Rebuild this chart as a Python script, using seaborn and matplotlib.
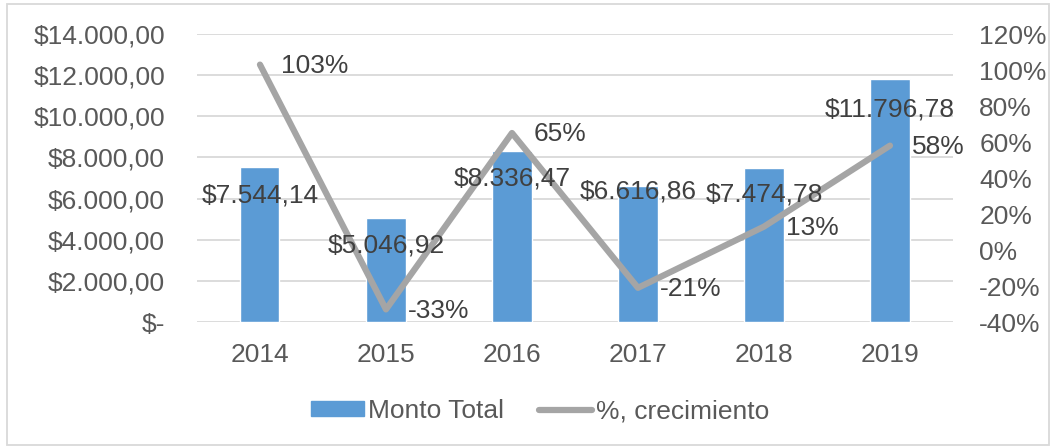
import matplotlib
matplotlib.use('Agg')
import matplotlib.pyplot as plt
import seaborn as sns
import numpy as np
import pandas as pd
from matplotlib.patches import Patch, Rectangle
from matplotlib.lines import Line2D
from matplotlib.ticker import FuncFormatter

years = ['2014', '2015', '2016', '2017', '2018', '2019']
monto_total = [7544.14, 5046.92, 8336.47, 6616.86, 7474.78, 11796.78]
crecimiento = [103, -33, 65, -21, 13, 58]

# vertical offsets (points) of the bar labels below the bar top
bar_label_dy = [-21, -20, -20, -4, -19, -22]

sns.set_theme(style='white')
plt.rcParams['font.family'] = ['Liberation Sans', 'DejaVu Sans']

BLUE = '#5B9BD5'
GRAY = '#A5A5A5'
TXT = '#595959'
LBL = '#404040'
FS = 19

def money(v):
    if v == 0:
        return '$-'
    s = f'{v:,.2f}'
    s = s.replace(',', 'X').replace('.', ',').replace('X', '.')
    return '$' + s

df = pd.DataFrame({'year': years, 'monto': monto_total, 'pct': crecimiento})

fig = plt.figure(figsize=(10.55, 4.47), dpi=100)
ax = fig.add_axes([0.1867, 0.2796, 0.7166, 0.6443])

sns.barplot(data=df, x='year', y='monto', color=BLUE, saturation=1,
            width=0.31, ax=ax, zorder=2)
ax.set_ylim(0, 14000)
ax.set_yticks(np.arange(0, 14001, 2000))
ax.yaxis.set_major_formatter(FuncFormatter(lambda v, p: money(v)))
ax.set_xlim(-0.5, 5.5)
ax.grid(axis='y', color='#D9D9D9', lw=1.3, zorder=0)
ax.set_axisbelow(True)
ax.set_xlabel('')
ax.set_ylabel('')
for s in ax.spines.values():
    s.set_visible(False)
ax.tick_params(axis='both', length=0, labelsize=FS, labelcolor=TXT)
ax.tick_params(axis='y', pad=23)
ax.tick_params(axis='x', pad=15)

ax2 = ax.twinx()
sns.lineplot(x=np.arange(len(years)), y=df['pct'], color=GRAY, lw=4.5,
             ax=ax2, zorder=3, solid_capstyle='round')
ax2.set_ylim(-40, 120)
ax2.set_yticks(np.arange(-40, 121, 20))
ax2.yaxis.set_major_formatter(FuncFormatter(lambda v, p: f'{v:.0f}%'))
ax2.set_ylabel('')
ax2.set_xlim(-0.5, 5.5)
for s in ax2.spines.values():
    s.set_visible(False)
ax2.tick_params(axis='y', length=0, labelsize=FS, labelcolor=TXT, pad=19)

for i, v in enumerate(monto_total):
    ax2.annotate(money(v), xy=(i, v * 160 / 14000 - 40), xytext=(0, bar_label_dy[i]),
                 textcoords='offset points', ha='center', va='center',
                 fontsize=FS, color=LBL, zorder=5)
for i, p in enumerate(crecimiento):
    ax2.annotate(f'{p}%', xy=(i, p), xytext=(15.5, -1), textcoords='offset points',
                 ha='left', va='center', fontsize=FS, color=LBL, zorder=5)

handles = [Patch(color=BLUE), Line2D([0], [0], color=GRAY, lw=4.5, solid_capstyle='round')]
fig.legend(handles, ['Monto Total', '%, crecimiento'], loc='center',
           bbox_to_anchor=(0.512, 0.08), ncol=2, frameon=False, fontsize=FS,
           labelcolor=TXT, handlelength=2.0, handletextpad=0.15, columnspacing=1.35,
           handleheight=0.5)

fig.patches.append(Rectangle((0.007, 0.005), 0.987, 0.985, transform=fig.transFigure,
                             fill=False, ec='#D9D9D9', lw=1.3))

fig.savefig('out.png', dpi=100)
